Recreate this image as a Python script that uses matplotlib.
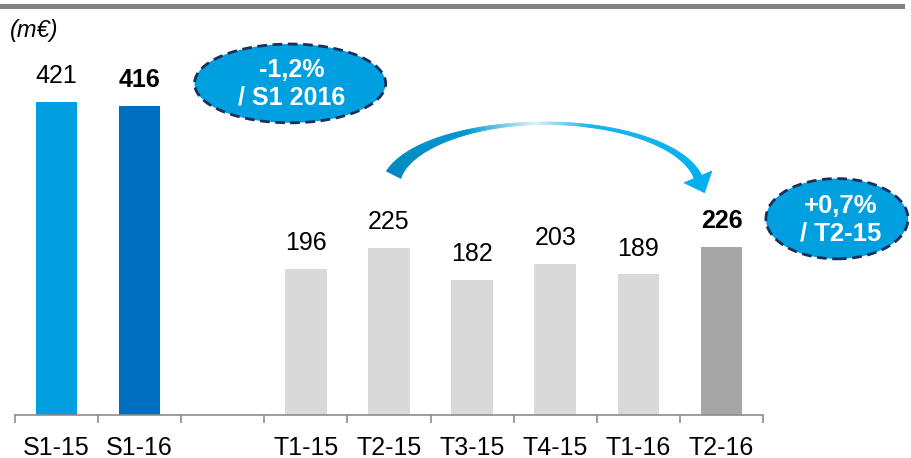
import numpy as np
import matplotlib
matplotlib.use('Agg')
import matplotlib.pyplot as plt
from matplotlib.patches import Ellipse, Rectangle, Polygon
from matplotlib.collections import PolyCollection
from matplotlib.transforms import IdentityTransform
from matplotlib.colors import to_rgb

plt.rcParams['font.family'] = ['Liberation Sans', 'DejaVu Sans']

# data
categories = ['S1-15', 'S1-16', 'T1-15', 'T2-15', 'T3-15', 'T4-15', 'T1-16', 'T2-16']
values = [421, 416, 196, 225, 182, 203, 189, 226]
bold_value = [False, True, False, False, False, False, False, True]
bar_colors = ['#009FDF', '#006EBE', '#D9D9D9', '#D9D9D9', '#D9D9D9',
              '#D9D9D9', '#D9D9D9', '#A6A6A6']
# one empty slot between semesters and quarters
positions = [0, 1, 3, 4, 5, 6, 7, 8]
badge_semester = '-1,2%\n/ S1 2016'
badge_quarter = '+0,7%\n/ T2-15'

W, H = 912, 458
fig = plt.figure(figsize=(W / 100, H / 100), dpi=100)
ax = fig.add_axes([15 / W, 43 / H, 748 / W, 355 / H])

ax.bar(positions, values, width=0.5, color=bar_colors, zorder=2)
ax.set_xlim(-0.5, 8.5)
ax.set_ylim(0, 477.5)

for x, v, b in zip(positions, values, bold_value):
    ax.annotate(str(v), (x, v), xytext=(0, 10), textcoords='offset points',
                ha='center', va='bottom', fontsize=18,
                fontweight='bold' if b else 'normal', color='black')

for s in ['left', 'right', 'top']:
    ax.spines[s].set_visible(False)
ax.spines['bottom'].set_color('#8C8C8C')
ax.spines['bottom'].set_linewidth(1.2)
ax.set_yticks([])
ax.set_xticks(positions)
ax.set_xticklabels(categories, fontsize=18)
ax.set_xticks(np.arange(-0.5, 9, 1), minor=True)
ax.tick_params(axis='x', which='major', length=0, pad=15)
ax.tick_params(axis='x', which='minor', length=6, width=1.2, color='#8C8C8C')

# badges
edge = '#1B2F5B'
fill = '#009FDF'
e1 = Ellipse((2.81, 446), 2.3, 106, facecolor=fill, edgecolor=edge,
             linestyle=(0, (3.5, 2)), linewidth=2, clip_on=False, zorder=3)
e2 = Ellipse((9.39, 264), 1.71, 108, facecolor=fill, edgecolor=edge,
             linestyle=(0, (3.5, 2)), linewidth=2, clip_on=False, zorder=3)
ax.add_patch(e1)
ax.add_patch(e2)
ax.text(2.83, 446, badge_semester, ha='center', va='center', color='white',
        fontsize=18, fontweight='bold', linespacing=1.2, zorder=4, clip_on=False)
ax.text(9.43, 263, badge_quarter, ha='center', va='center', color='white',
        fontsize=18.5, fontweight='bold', linespacing=1.2, zorder=4, clip_on=False)

# curved gradient arrow from T2-15 to T2-16
cx, cy = ax.transData.transform((5.88, 305))
a, b = 155, 65
th = np.linspace(np.radians(168), np.radians(10), 120)
t = np.linspace(0, 1, len(th))
px = cx + a * np.cos(th)
py = cy + b * np.sin(th)
dx = a * np.sin(th)
dy = -b * np.cos(th)
norm = np.hypot(dx, dy)
dx, dy = dx / norm, dy / norm
nx, ny = -dy, dx
w = np.where(t < 0.5, 2.5 + 13.5 * (1 - 2 * t) ** 2, 2.5 + 5.5 * (2 * t - 1) ** 2)
ox, oy = px + nx * w / 2, py + ny * w / 2
ix, iy = px - nx * w / 2, py - ny * w / 2

stops = [(0.0, '#0088C0'), (0.3, '#0096D0'), (0.47, '#D8F1FC'),
         (0.6, '#19B4F0'), (1.0, '#00B0F0')]
st = [s[0] for s in stops]
sc = np.array([to_rgb(s[1]) for s in stops])


def grad(tt):
    return [np.interp(tt, st, sc[:, k]) for k in range(3)]


verts = []
cols = []
for i in range(len(th) - 1):
    verts.append([(ox[i], oy[i]), (ox[i + 1], oy[i + 1]),
                  (ix[i + 1], iy[i + 1]), (ix[i], iy[i])])
    cols.append(grad((t[i] + t[i + 1]) / 2))
pc = PolyCollection(verts, facecolors=cols, edgecolors=cols, linewidths=0.6,
                    transform=IdentityTransform(), zorder=3)
pc.set_clip_on(False)
ax.add_collection(pc, autolim=False)

ex, ey = px[-1], py[-1]
head = Polygon([(ex + nx[-1] * 15, ey + ny[-1] * 15),
                (ex + dx[-1] * 17, ey + dy[-1] * 17),
                (ex - nx[-1] * 15, ey - ny[-1] * 15)],
               closed=True, facecolor='#00B0F0', edgecolor='#00B0F0',
               linewidth=0.6, transform=IdentityTransform(), zorder=3,
               clip_on=False)
ax.add_patch(head)

# header rule and unit
fig.add_artist(Rectangle((0, 1 - 9 / H), 905 / W, 5 / H, transform=fig.transFigure,
                         facecolor='#808080', edgecolor='none'))
fig.text(10 / W, 1 - 30 / H, '(m€)', fontsize=17, style='italic',
         ha='left', va='center')

fig.savefig('out.png', dpi=100)
